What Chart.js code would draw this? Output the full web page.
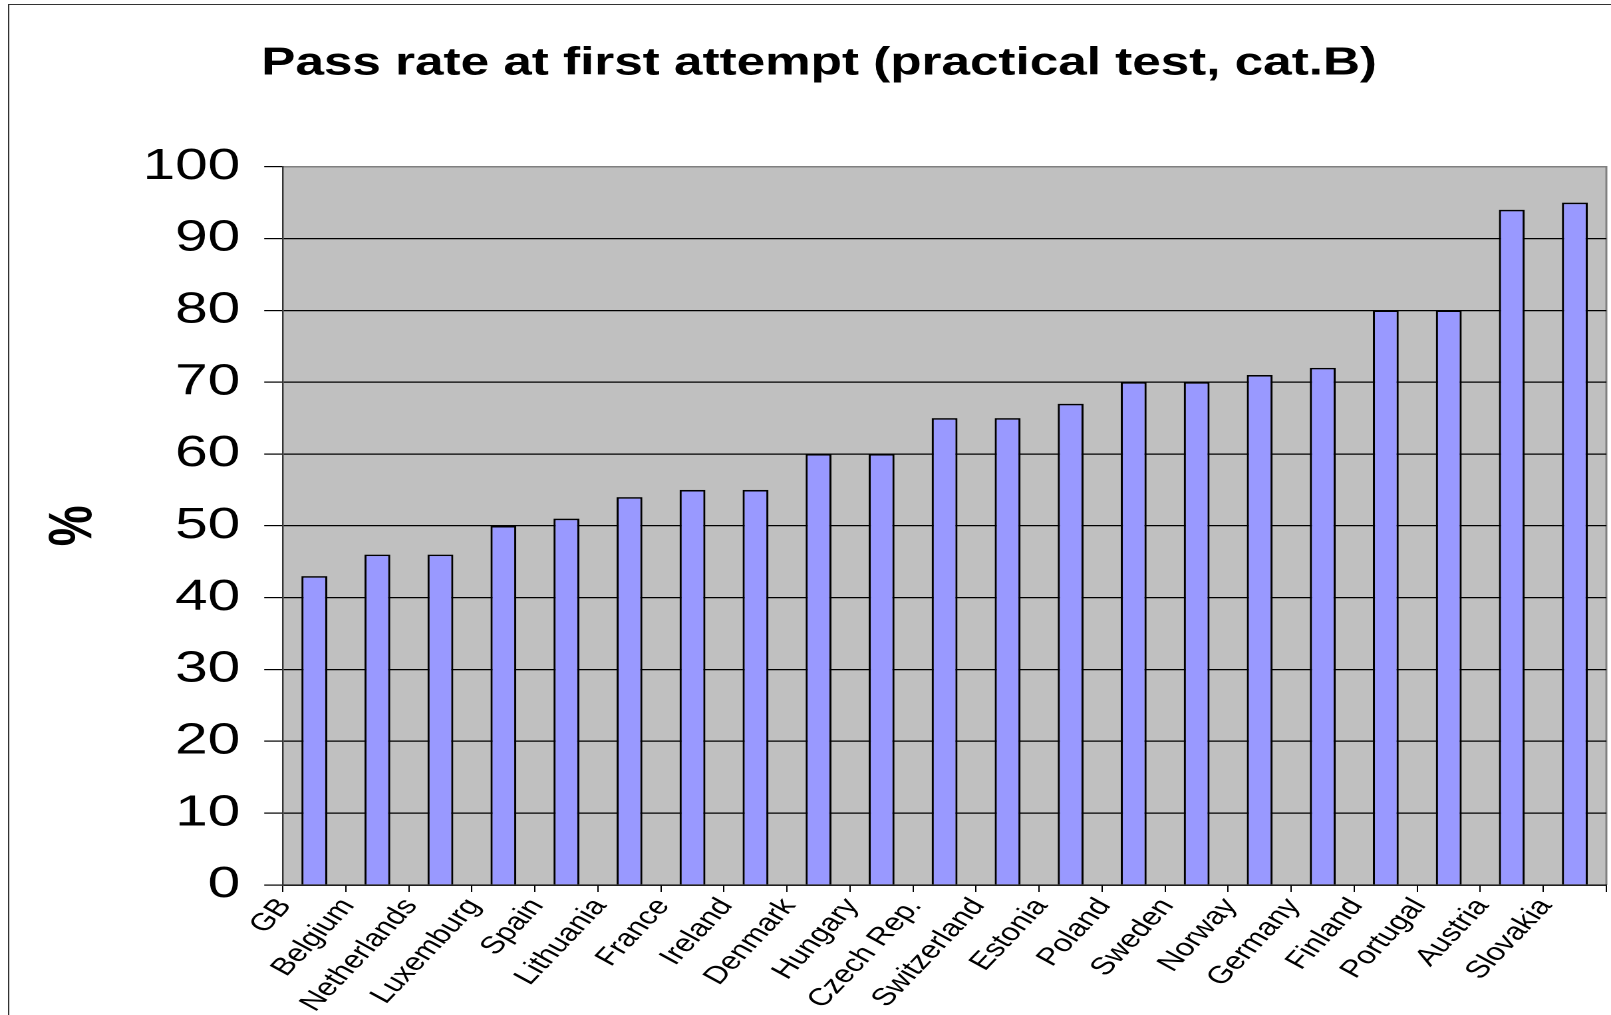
<!DOCTYPE html>
<html>
<head>
<meta charset="utf-8">
<title>Pass rate at first attempt</title>
<script src="https://cdn.jsdelivr.net/npm/chart.js@4/dist/chart.umd.min.js"></script>
<style>
  html, body { margin: 0; padding: 0; background: #fff; overflow: hidden; }
  #c { display: block; }
</style>
</head>
<body>
<!-- drawn on a narrower logical canvas and widened on screen, giving the broad lettering -->
<canvas id="c" width="1211" height="1015" style="width:1611px;height:1015px"></canvas>
<script>
const countries = ['GB', 'Belgium', 'Netherlands', 'Luxemburg', 'Spain', 'Lithuania', 'France',
  'Ireland', 'Denmark', 'Hungary', 'Czech Rep.', 'Switzerland', 'Estonia', 'Poland', 'Sweden',
  'Norway', 'Germany', 'Finland', 'Portugal', 'Austria', 'Slovakia'];
const passRates = [43, 46, 46, 50, 51, 54, 55, 55, 60, 60, 65, 65, 67, 70, 70, 71, 72, 80, 80, 94, 95];
const yTicks = [0, 10, 20, 30, 40, 50, 60, 70, 80, 90, 100];
const chartTitle = 'Pass rate at first attempt (practical test, cat.B)';
const yAxisTitle = '%';

const FONT = "'Liberation Sans', Arial, sans-serif";

// grey plot area plus the outer frame
const plotBackdrop = {
  id: 'plotBackdrop',
  beforeDraw(chart) {
    const { ctx, chartArea: a } = chart;
    ctx.save();
    ctx.strokeStyle = '#333';
    ctx.lineWidth = 1;
    ctx.strokeRect(6.5, 4.5, chart.width + 40, chart.height + 40);
    ctx.fillStyle = '#c0c0c0';
    ctx.fillRect(a.left, a.top, a.right - a.left, a.bottom - a.top);
    ctx.strokeStyle = '#808080';
    ctx.lineWidth = 1.5;
    ctx.beginPath();
    ctx.moveTo(a.left, a.top);
    ctx.lineTo(a.right, a.top);
    ctx.lineTo(a.right, a.bottom);
    ctx.stroke();
    ctx.restore();
  }
};

new Chart(document.getElementById('c'), {
  type: 'bar',
  data: {
    labels: countries,
    datasets: [{
      data: passRates,
      backgroundColor: '#9999ff',
      borderColor: '#000',
      borderWidth: 1.6,
      categoryPercentage: 1,
      barPercentage: 0.41
    }]
  },
  options: {
    responsive: false,
    devicePixelRatio: 2,
    animation: false,
    events: [],
    layout: { padding: { left: 24, right: 3.5, top: 0, bottom: 0 } },
    plugins: {
      legend: { display: false },
      tooltip: { enabled: false },
      title: {
        display: true,
        text: chartTitle,
        color: '#000',
        font: { family: FONT, size: 38.5, weight: 'bold' },
        padding: { top: 41, bottom: 79.5 }
      }
    },
    scales: {
      x: {
        ticks: {
          color: '#000',
          font: { family: FONT, size: 24.5 },
          autoSkip: false,
          minRotation: 54,
          maxRotation: 54,
          labelOffset: -22,
          padding: 1
        },
        grid: { drawOnChartArea: false, offset: true, tickLength: 7, color: '#000', tickColor: '#000', lineWidth: 1 },
        border: { color: '#000', width: 1.2 },
        afterFit(s) { s.height = 130; s.paddingLeft = 0; s.paddingRight = 0; }
      },
      y: {
        min: 0,
        max: 100,
        afterBuildTicks(s) { s.ticks = yTicks.map(v => ({ value: v })); },
        ticks: { color: '#000', font: { family: FONT, size: 44 }, padding: 18 },
        grid: {
          color: c => (c.tick && c.tick.value === 100 ? '#808080' : '#000'),
          tickColor: '#000',
          tickLength: 14,
          lineWidth: 1.2
        },
        border: { color: '#333', width: 1.2 },
        title: {
          display: true,
          text: yAxisTitle,
          color: '#000',
          font: { family: FONT, size: 46, weight: 'bold' },
          padding: { top: 4, bottom: 0 }
        },
        afterFit(s) { s.width = 188.6; }
      }
    }
  },
  plugins: [plotBackdrop]
});
</script>
</body>
</html>
